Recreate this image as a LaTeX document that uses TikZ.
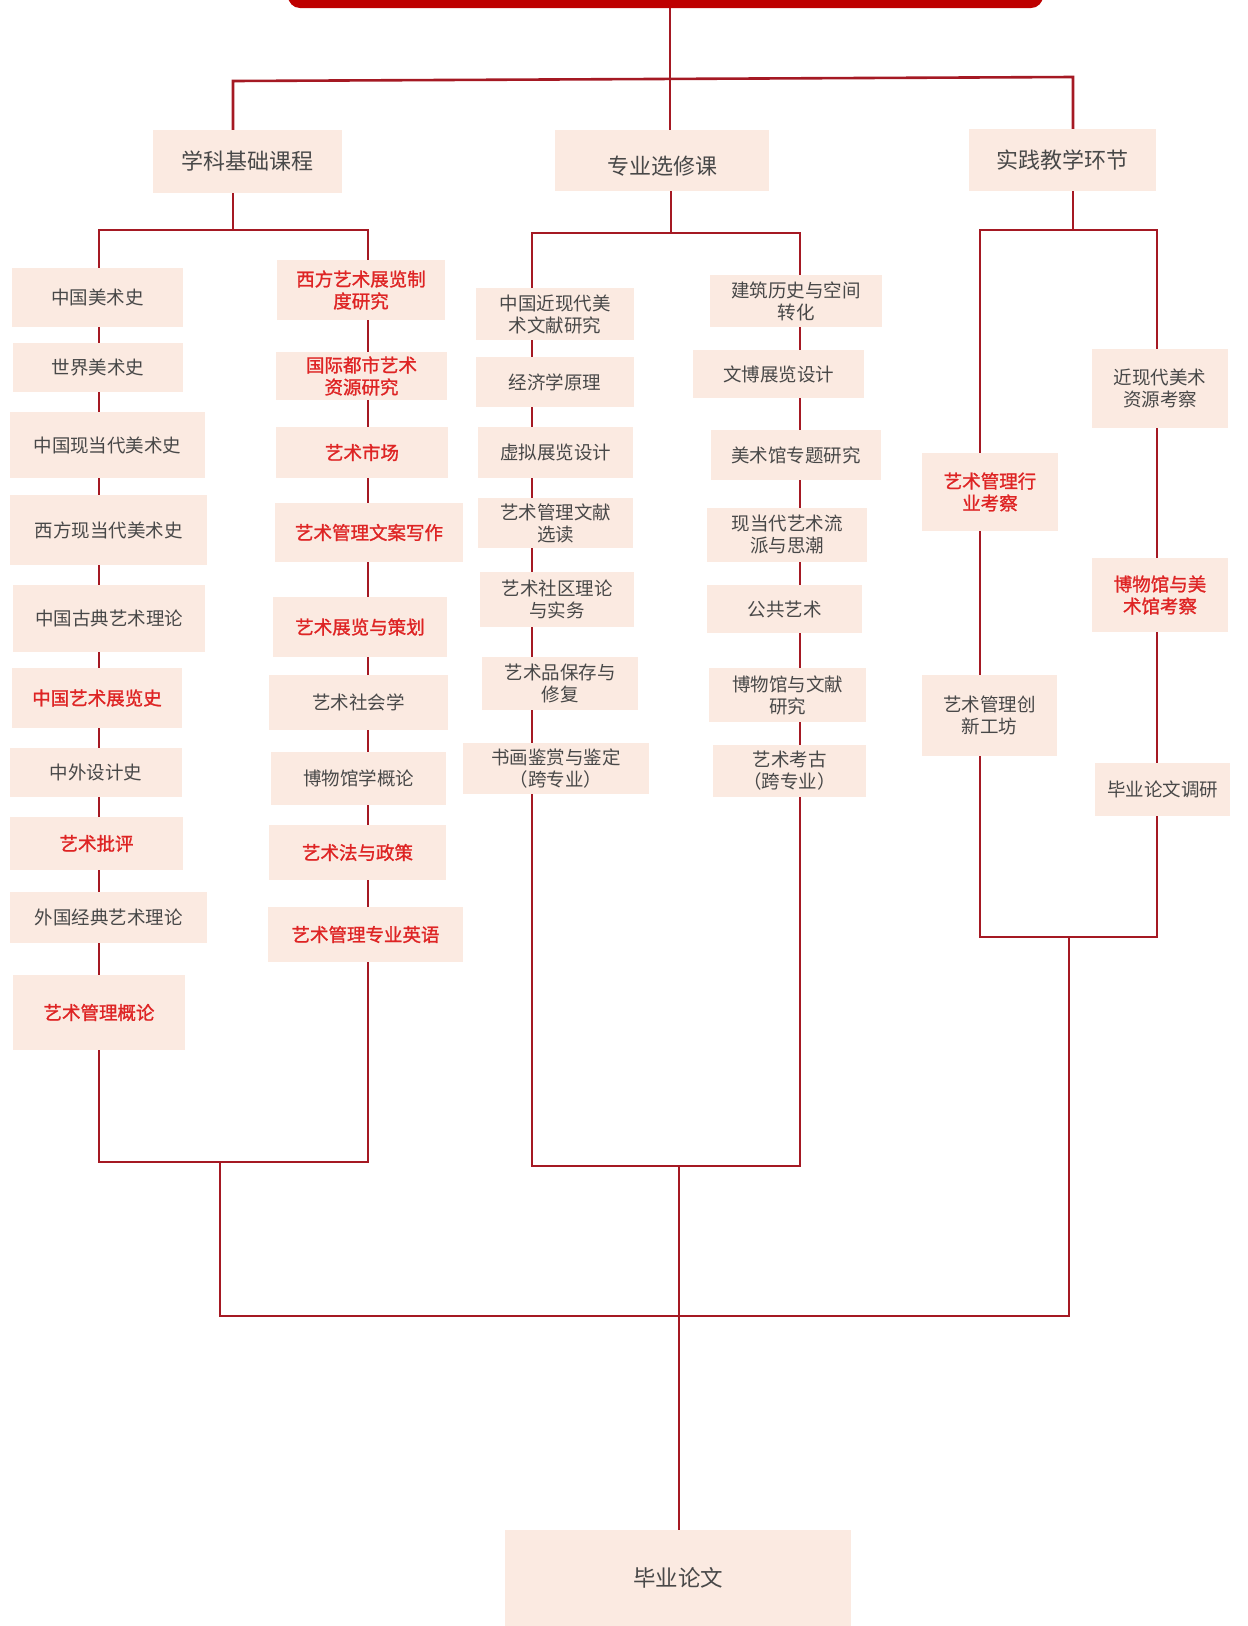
\documentclass[tikz,border=0pt]{standalone}
\usepackage{fontspec}
\setmainfont{Noto Sans CJK SC}
\newfontfamily\redcjk{Noto Sans CJK SC}[FakeBold=1.2]
\usetikzlibrary{backgrounds}
\definecolor{peach}{RGB}{251,234,225}
\definecolor{lnred}{RGB}{165,25,35}
\definecolor{txtgray}{RGB}{72,72,72}
\definecolor{hired}{RGB}{222,36,36}
\definecolor{barred}{RGB}{190,0,0}
\begin{document}
\begin{tikzpicture}[x=1pt,y=-1pt,
  cbox/.style={fill=peach, text=txtgray, inner sep=0pt, align=center, font=\fontsize{18.5}{22}\selectfont},
  rbox/.style={cbox, text=hired, font=\redcjk\fontsize{18.5}{22}\selectfont},
  hbox/.style={cbox, font=\fontsize{22}{26}\selectfont},
  sz/.style 2 args={minimum width=#1, minimum height=#2},
  link/.style={draw=lnred, line width=2.6pt, line join=miter},
]
\useasboundingbox (0,0) rectangle (1248,1626);
\clip (0,0) rectangle (1248,1626);
% top bar
\node[fill=barred, rounded corners=12pt, sz={755}{44}, inner sep=0pt] (top) at (665.5,-14) {};
% level 1
\node[hbox, sz={189}{63}] (L1a) at (247.5,161.5) {学科基础课程};
\node[hbox, sz={214}{61}, text height=31pt, text depth=3pt] (L1b) at (662,160.5) {专业选修课};
\node[hbox, sz={187}{62}] (L1c) at (1062.5,160) {实践教学环节};
% left column A
\node[cbox, sz={171}{59}] (a1) at (97.5,297.5) {中国美术史};
\node[cbox, sz={170}{49}] (a2) at (98,367.5) {世界美术史};
\node[cbox, sz={195}{66}] (a3) at (107.5,445) {中国现当代美术史};
\node[cbox, sz={197}{70}] (a4) at (108.5,530) {西方现当代美术史};
\node[cbox, sz={192}{67}] (a5) at (109,618.5) {中国古典艺术理论};
\node[rbox, sz={170}{60}] (a6) at (97,698) {中国艺术展览史};
\node[cbox, sz={172}{49}] (a7) at (96,772.5) {中外设计史};
\node[rbox, sz={173}{53}] (a8) at (96.5,843.5) {艺术批评};
\node[cbox, sz={197}{51}] (a9) at (108.5,917.5) {外国经典艺术理论};
\node[rbox, sz={172}{75}] (a10) at (99,1012.5) {艺术管理概论};
% left column B
\node[rbox, sz={168}{60}] (b1) at (361,290) {西方艺术展览制\\度研究};
\node[rbox, sz={171}{48}] (b2) at (361.5,376) {国际都市艺术\\资源研究};
\node[rbox, sz={172}{51}] (b3) at (362,452.5) {艺术市场};
\node[rbox, sz={188}{59}] (b4) at (369,532.5) {艺术管理文案写作};
\node[rbox, sz={174}{60}] (b5) at (360,627) {艺术展览与策划};
\node[cbox, sz={179}{55}] (b6) at (358.5,702.5) {艺术社会学};
\node[cbox, sz={175}{53}] (b7) at (358.5,778.5) {博物馆学概论};
\node[rbox, sz={177}{55}] (b8) at (357.5,852.5) {艺术法与政策};
\node[rbox, sz={195}{55}] (b9) at (365.5,934.5) {艺术管理专业英语};
% middle column C
\node[cbox, sz={158}{52}] (c1) at (555,314) {中国近现代美\\术文献研究};
\node[cbox, sz={158}{50}] (c2) at (555,382) {经济学原理};
\node[cbox, sz={155}{51}] (c3) at (555.5,452.5) {虚拟展览设计};
\node[cbox, sz={155}{50}] (c4) at (555.5,523) {艺术管理文献\\选读};
\node[cbox, sz={154}{55}] (c5) at (557,599.5) {艺术社区理论\\与实务};
\node[cbox, sz={156}{53}] (c6) at (560,683.5) {艺术品保存与\\修复};
\node[cbox, sz={186}{51}] (c7) at (556,768.5) {书画鉴赏与鉴定\\（跨专业）};
% middle column D
\node[cbox, sz={172}{52}] (d1) at (796,301) {建筑历史与空间\\转化};
\node[cbox, sz={171}{48}] (d2) at (778.5,374) {文博展览设计};
\node[cbox, sz={170}{50}] (d3) at (796,455) {美术馆专题研究};
\node[cbox, sz={160}{54}] (d4) at (787,535) {现当代艺术流\\派与思潮};
\node[cbox, sz={155}{48}] (d5) at (784.5,609) {公共艺术};
\node[cbox, sz={157}{54}] (d6) at (787.5,695) {博物馆与文献\\研究};
\node[cbox, sz={153}{52}] (d7) at (789.5,771) {艺术考古\\（跨专业）};
% right column
\node[rbox, sz={136}{78}] (e1) at (990,492) {艺术管理行\\业考察};
\node[cbox, sz={135}{81}] (e2) at (989.5,715.5) {艺术管理创\\新工坊};
\node[cbox, sz={136}{79}] (f1) at (1160,388.5) {近现代美术\\资源考察};
\node[rbox, sz={136}{74}] (f2) at (1160,595) {博物馆与美\\术馆考察};
\node[cbox, sz={135}{53}] (f3) at (1162.5,789.5) {毕业论文调研};
% thesis
\node[hbox, sz={346}{96}, font=\fontsize{22.5}{26}\selectfont] (thesis) at (678,1578) {毕业论文};
% junction coordinates
\coordinate (jA) at (233,230);
\coordinate (jB) at (671,233);
\coordinate (jC) at (1073,230);
\coordinate (bl) at (220,1316);
\coordinate (br) at (1069,1316);
\coordinate (bm) at (679,1316);
\begin{pgfonlayer}{background}
\draw[link] (670,0 |- top.south) -- (670,0 |- L1b.north);
\draw[link] (233,0 |- L1a.north) -- (233,81) -- (1073,77) -- (1073,0 |- L1c.north);
\draw[link] (233,0 |- L1a.south) -- (jA);
\draw[link] (671,0 |- L1b.south) -- (jB);
\draw[link] (1073,0 |- L1c.south) -- (jC);
\draw[link] (99,230) rectangle (368,1162);
\draw[link] (532,233) rectangle (800,1166);
\draw[link] (980,230) rectangle (1157,937);
\draw[link] (220,1162) -- (bl) -- (br) -- (1069,937);
\draw[link] (679,1166) -- (bm) -- (679,0 |- thesis.north);
\end{pgfonlayer}
\end{tikzpicture}
\end{document}
